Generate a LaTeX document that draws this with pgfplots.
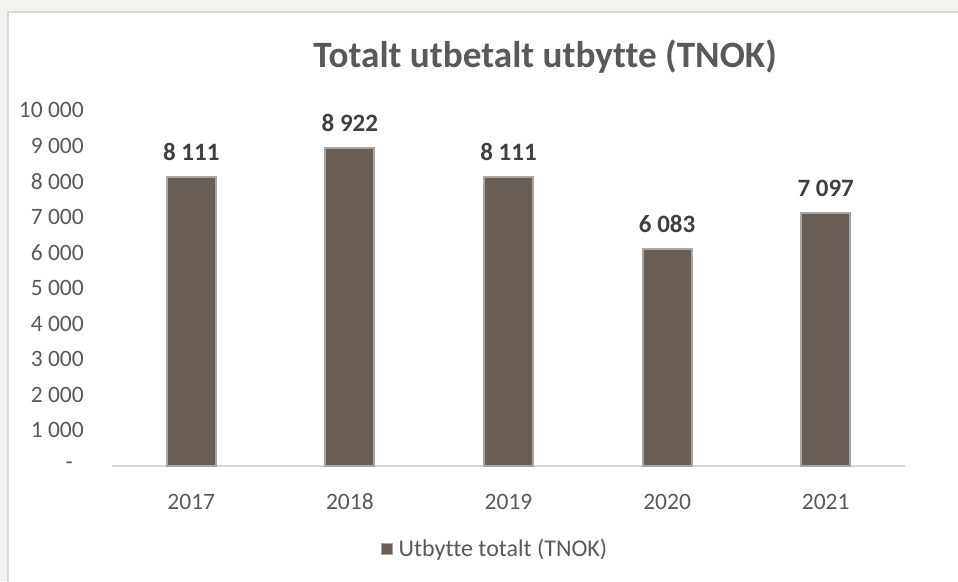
\documentclass[border=0pt]{standalone}
\usepackage{pgfplots}
\pgfplotsset{compat=1.18}
\usepackage{fontspec}
\setmainfont{Carlito}[Ligatures={NoCommon}]
\definecolor{barfill}{HTML}{695F56}
\definecolor{baredge}{HTML}{A6A6A6}
\definecolor{txt}{HTML}{595959}
\definecolor{lbl}{HTML}{404040}
\definecolor{outer}{HTML}{F3F2EE}
\definecolor{frame}{HTML}{D9D9D9}
\begin{document}
\begin{tikzpicture}
\useasboundingbox (0pt,0pt) rectangle (958pt,581pt);
\fill[outer] (0pt,0pt) rectangle (958pt,581pt);
\fill[white] (8pt,0pt) rectangle (958pt,569pt);
\draw[frame, line width=2pt] (8pt,-2pt) -- (8pt,569pt) -- (960pt,569pt);
\node[anchor=base, inner sep=0pt, font=\fontsize{37.2}{44}\selectfont\bfseries, text=txt] at (545pt,513pt) {Totalt utbetalt utbytte (TNOK)};
\begin{axis}[
  at={(112pt,115pt)}, anchor=south west,
  scale only axis, width=793pt, height=356pt,
  xmin=-0.5, xmax=4.5, ymin=0, ymax=10000,
  scaled y ticks=false,
  axis lines*=left,
  y axis line style={draw=none},
  x axis line style={frame, line width=2pt},
  tick style={draw=none},
  xtick={0,1,2,3,4},
  xticklabels={2017,2018,2019,2020,2021},
  ytick={0,1000,2000,3000,4000,5000,6000,7000,8000,9000,10000},
  yticklabels={{-\rule{11pt}{0pt}},1 000,2 000,3 000,4 000,5 000,6 000,7 000,8 000,9 000,10 000},
  xticklabel style={anchor=base, inner sep=0pt, yshift=-39pt},
  yticklabel style={anchor=east, inner sep=0pt, xshift=-28pt},
  tick label style={font=\fontsize{23.5}{28}\selectfont, text=txt},
  ybar, bar width=49pt,
  nodes near coords,
  point meta=explicit symbolic,
  nodes near coords style={font=\fontsize{25}{29}\selectfont\bfseries, text=lbl, anchor=south, inner sep=0pt, yshift=16pt},
  legend style={draw=none, fill=none, at={(0.482,-0.233)}, anchor=center, inner sep=0pt, font=\fontsize{24}{28}\selectfont, text=txt, nodes={inner sep=0pt}},
  legend image code/.code={\fill[barfill, draw=baredge, line width=1pt] (0pt,-5.5pt) rectangle (11pt,5.5pt); \path (16pt,0pt);},
]
\addplot[fill=barfill, draw=baredge, line width=2pt] coordinates {
  (0,8111) [8 111]
  (1,8922) [8 922]
  (2,8111) [8 111]
  (3,6083) [6 083]
  (4,7097) [7 097]
};
\addlegendentry{Utbytte totalt (TNOK)}
\end{axis}
\end{tikzpicture}
\end{document}
